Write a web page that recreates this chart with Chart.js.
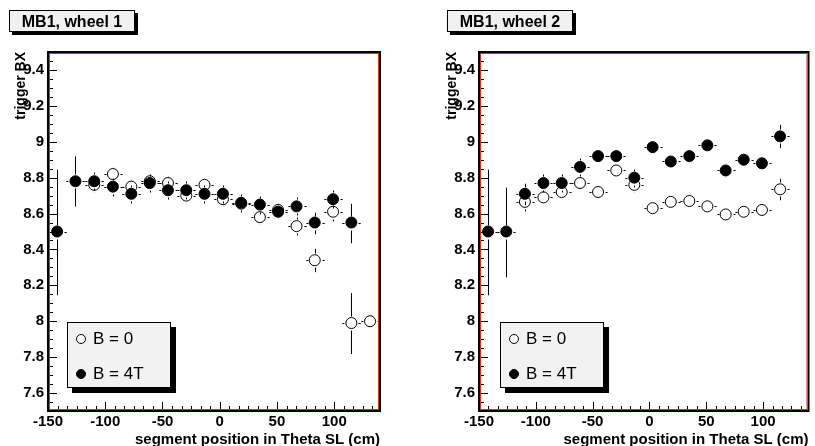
<!DOCTYPE html>
<html>
<head>
<meta charset="utf-8">
<script src="https://cdn.jsdelivr.net/npm/chart.js@4"></script>
<style>
  html, body { margin: 0; padding: 0; background: #fff; overflow: hidden; }
  body { width: 815px; height: 446px; position: relative; font-family: "Liberation Sans", Arial, sans-serif; }
  canvas { position: absolute; top: 0; }
  #c1 { left: 0; }
  #c2 { left: 431px; }
  .title-box {
    position: absolute; top: 10px; width: 124px; height: 20px;
    background: #f0f0f0; border: 1px solid #000; box-shadow: 3px 3px 0 #000;
    font-weight: bold; font-size: 16px; line-height: 21px; text-align: center;
  }
  .leg {
    position: absolute; top: 322px; width: 102px; height: 64px;
    background: #f2f2f2; border: 1px solid #000; box-shadow: 5px 5px 0 #000;
    font-size: 17px;
  }
  .leg div { position: absolute; left: 25px; line-height: 20px; }
  .leg span {
    position: absolute; left: -17px; top: 5px; width: 8px; height: 8px;
    border: 1px solid #000; border-radius: 50%; background: #fff;
  }
  .leg span.full { background: #000; }
</style>
</head>
<body>
<canvas id="c1" width="400" height="449"></canvas>
<canvas id="c2" width="384" height="449"></canvas>

<div class="title-box" style="left:9px">MB1, wheel 1</div>
<div class="title-box" style="left:447px">MB1, wheel 2</div>

<div class="leg" style="left:67px">
  <div style="top:6px"><span></span>B = 0</div>
  <div style="top:41px"><span class="full"></span>B = 4T</div>
</div>
<div class="leg" style="left:500px">
  <div style="top:6px"><span></span>B = 0</div>
  <div style="top:41px"><span class="full"></span>B = 4T</div>
</div>

<script>
// segment position bins (cm)
const segPos = [-142, -126, -109.6, -93.3, -77.2, -61.1, -45.2, -29.2, -13.3, 2.8, 18.8, 35.1, 51, 67.1, 83, 99, 115, 131.3];
const binHalfWidth = 8;

// wheel 1
const w1B0     = [null, null, 8.76, 8.82, 8.75, 8.78, 8.77, 8.70, 8.76, 8.68, 8.655, 8.58, 8.62, 8.53, 8.34, 8.61, 7.99, 8.00];
const w1B0Err  = [null, null, 0.04, 0.04, 0.04, 0.04, 0.04, 0.04, 0.04, 0.04, 0.04, 0.04, 0.04, 0.05, 0.065, 0.05, 0.17, 0.01];
const w1B4T    = [8.50, 8.78, 8.78, 8.75, 8.71, 8.77, 8.73, 8.73, 8.71, 8.71, 8.66, 8.65, 8.61, 8.64, 8.55, 8.68, 8.55, null];
const w1B4TErr = [0.35, 0.14, 0.05, 0.05, 0.05, 0.05, 0.05, 0.05, 0.05, 0.05, 0.05, 0.05, 0.04, 0.05, 0.06, 0.05, 0.11, null];

// wheel 2
const w2B0     = [null, null, 8.665, 8.69, 8.72, 8.77, 8.72, 8.84, 8.76, 8.63, 8.665, 8.67, 8.64, 8.595, 8.61, 8.62, 8.735, null];
const w2B0Err  = [null, null, 0.05, 0.03, 0.03, 0.03, 0.03, 0.03, 0.04, 0.03, 0.03, 0.03, 0.03, 0.03, 0.03, 0.03, 0.06, null];
const w2B4T    = [8.50, 8.50, 8.71, 8.77, 8.77, 8.86, 8.92, 8.92, 8.80, 8.97, 8.89, 8.92, 8.98, 8.84, 8.90, 8.88, 9.03, null];
const w2B4TErr = [0.35, 0.25, 0.06, 0.05, 0.05, 0.05, 0.03, 0.03, 0.05, 0.03, 0.03, 0.03, 0.03, 0.04, 0.03, 0.03, 0.065, null];

const xTicks = [-150, -100, -50, 0, 50, 100];
const yTicks = [7.6, 7.8, 8, 8.2, 8.4, 8.6, 8.8, 9, 9.2, 9.4];

const FONT = '"Liberation Sans", Arial, sans-serif';

function points(vals, errs) {
    const out = [];
    vals.forEach((v, i) => {
        if (v !== null) out.push({ x: segPos[i], y: v, ey: errs[i] });
    });
    return out;
}

// error bars in ROOT style (gap around the marker), frame and inward ticks
const rootStyle = {
    id: 'rootStyle',
    beforeDatasetDraw(chart, args) {
        const ctx = chart.ctx;
        const xs = chart.scales.x, ys = chart.scales.y;
        const raw = chart.data.datasets[args.index].data;
        const gap = 7;
        ctx.save();
        ctx.strokeStyle = '#000';
        ctx.lineWidth = 1;
        ctx.beginPath();
        args.meta.data.forEach((el, j) => {
            const p = raw[j];
            const px = Math.round(el.x) + 0.5, py = Math.round(el.y) + 0.5;
            const ex = Math.abs(xs.getPixelForValue(p.x + binHalfWidth) - el.x);
            const ey = Math.abs(ys.getPixelForValue(p.y + p.ey) - el.y);
            if (ex > gap) {
                ctx.moveTo(px - ex, py); ctx.lineTo(px - gap, py);
                ctx.moveTo(px + gap, py); ctx.lineTo(px + ex, py);
            }
            if (ey > gap) {
                ctx.moveTo(px, py - ey); ctx.lineTo(px, py - gap);
                ctx.moveTo(px, py + gap); ctx.lineTo(px, py + ey);
            }
        });
        ctx.stroke();
        ctx.restore();
    },
    afterDraw(chart) {
        const ctx = chart.ctx;
        const a = chart.chartArea;
        const xs = chart.scales.x, ys = chart.scales.y;
        ctx.save();
        ctx.strokeStyle = '#000';
        ctx.lineWidth = 1;
        ctx.beginPath();
        // y ticks, every 0.05, major every 0.2
        for (let k = 0; k <= 40; k++) {
            const v = 7.5 + k * 0.05;
            const major = yTicks.some(t => Math.abs(t - v) < 1e-6);
            const y = Math.round(ys.getPixelForValue(v)) + 0.5;
            ctx.moveTo(a.left, y);
            ctx.lineTo(a.left + (major ? 9 : 5), y);
        }
        // x ticks, 6 minor divisions per 50
        for (let k = 0; k <= 34; k++) {
            const v = -150 + k * 50 / 6;
            if (v > 140) break;
            const major = k % 6 === 0;
            const x = Math.round(xs.getPixelForValue(v)) + 0.5;
            ctx.moveTo(x, a.bottom);
            ctx.lineTo(x, a.bottom - (major ? 9 : 5));
        }
        ctx.stroke();
        // frame
        ctx.lineWidth = 2;
        ctx.strokeRect(a.left, a.top, a.right - a.left, a.bottom - a.top);
        ctx.strokeStyle = '#d8321e';
        ctx.lineWidth = 1;
        ctx.strokeRect(a.left + 1.5, a.top + 1.5, a.right - a.left - 3, a.bottom - a.top - 3);
        ctx.restore();
    }
};

function makeChart(id, b0, b0Err, b4t, b4tErr, padRight) {
    return new Chart(document.getElementById(id), {
        type: 'scatter',
        data: {
            datasets: [
                {
                    label: 'B = 4T',
                    data: points(b4t, b4tErr),
                    order: 0,
                    pointRadius: 5.5,
                    pointBorderWidth: 1,
                    pointBackgroundColor: '#000',
                    pointBorderColor: '#000'
                },
                {
                    label: 'B = 0',
                    data: points(b0, b0Err),
                    order: 1,
                    pointRadius: 5.5,
                    pointBorderWidth: 1,
                    pointBackgroundColor: '#fff',
                    pointBorderColor: '#000'
                }
            ]
        },
        options: {
            responsive: false,
            animation: false,
            events: [],
            layout: { padding: { top: 52, right: padRight, left: 0, bottom: 0 } },
            plugins: { legend: { display: false }, tooltip: { enabled: false } },
            scales: {
                x: {
                    type: 'linear',
                    min: -150,
                    max: 140,
                    grid: { display: false, drawTicks: false },
                    border: { display: false },
                    afterBuildTicks: s => { s.ticks = xTicks.map(v => ({ value: v })); },
                    afterFit: s => { s.height = 38; },
                    ticks: {
                        color: '#000',
                        font: { family: FONT, size: 15, weight: 'bold' },
                        padding: 2,
                        maxRotation: 0,
                        autoSkip: false
                    },
                    title: {
                        display: true,
                        text: 'segment position in Theta SL (cm)',
                        align: 'end',
                        color: '#000',
                        font: { family: FONT, size: 15, weight: 'bold' },
                        padding: 0
                    }
                },
                y: {
                    type: 'linear',
                    min: 7.5,
                    max: 9.5,
                    grid: { display: false, drawTicks: false },
                    border: { display: false },
                    afterBuildTicks: s => { s.ticks = yTicks.map(v => ({ value: v })); },
                    afterFit: s => { s.width = 48; },
                    ticks: {
                        color: '#000',
                        font: { family: FONT, size: 15, weight: 'bold' },
                        padding: 4,
                        callback: v => String(Number(v.toFixed(1)))
                    },
                    title: {
                        display: true,
                        text: 'trigger BX',
                        align: 'end',
                        color: '#000',
                        font: { family: FONT, size: 14, weight: 'bold' },
                        padding: { top: 13, bottom: 0 }
                    }
                }
            }
        },
        plugins: [rootStyle]
    });
}

makeChart('c1', w1B0, w1B0Err, w1B4T, w1B4TErr, 20);
makeChart('c2', w2B0, w2B0Err, w2B4T, w2B4TErr, 4);
</script>
</body>
</html>
